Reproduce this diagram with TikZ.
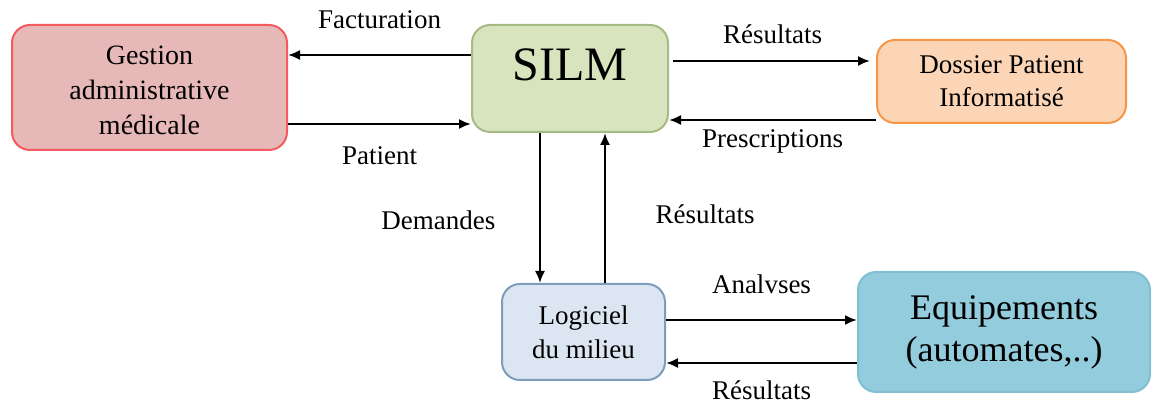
\documentclass[tikz,border=0pt]{standalone}
\usepackage{fontspec}
\setmainfont{Liberation Serif}
\usetikzlibrary{fit,arrows.meta}

\definecolor{gestfill}{HTML}{E6B9B8}
\definecolor{gestdraw}{HTML}{F45A5E}
\definecolor{silmfill}{HTML}{D7E4BD}
\definecolor{silmdraw}{HTML}{A5BA84}
\definecolor{dossfill}{HTML}{FBD5B5}
\definecolor{dossdraw}{HTML}{F79646}
\definecolor{logifill}{HTML}{DCE6F2}
\definecolor{logidraw}{HTML}{7F9CBB}
\definecolor{equifill}{HTML}{93CDDD}
\definecolor{equidraw}{HTML}{80C0D2}

\tikzset{
    bloc/.style={draw, line width=1pt, rounded corners=9pt, inner sep=0pt},
    fleche/.style={-{Latex[length=6pt, width=5pt]}, line width=1pt},
    lbl/.style={font=\fontsize{13.5}{16}\selectfont}
}

\begin{document}
\begin{tikzpicture}[x=0.5pt, y=-0.5pt]
        \useasboundingbox (0,0) rectangle (1152,405);

        \node[bloc, fill=gestfill, draw=gestdraw, fit={(12,25) (287,150)},
              label={[align=center, font=\fontsize{14}{17.5}\selectfont, yshift=-1.5pt]center:Gestion\\administrative\\médicale}] (gestion) {};
        \node[bloc, fill=silmfill, draw=silmdraw, fit={(472,25) (668,132)},
              label={[font=\fontsize{24}{28}\selectfont, yshift=6.75pt]center:SILM}] (silm) {};
        \node[bloc, fill=dossfill, draw=dossdraw, fit={(877,40) (1126,123)},
              label={[align=center, font=\fontsize{13.5}{16.5}\selectfont]center:Dossier Patient\\Informatisé}] (dossier) {};

        \node[bloc, fill=logifill, draw=logidraw, fit={(502,284) (665,380)},
              label={[align=center, font=\fontsize{13.5}{17}\selectfont]center:Logiciel\\du milieu}] (logiciel) {};
        \node[bloc, fill=equifill, draw=equidraw, fit={(858,272) (1150,392)},
              label={[align=center, font=\fontsize{18}{21}\selectfont]center:Equipements\\(automates,..)}] (equip) {};

        \draw [fleche]          (silm.west |- 0,55)      -- node[lbl, above=9.5pt] (lfact) {Facturation}   (gestion.east |- 0,55);
        \draw [fleche]          (gestion.east |- 0,124)  -- node[lbl, below=7.5pt] (lpat) {Patient}       (silm.west |- 0,124);
        \draw [fleche, shorten <=2pt, shorten >=3pt]
                                (silm.east |- 0,61)      -- node[lbl, above=5pt] (lres1) {Résultats}      (dossier.west |- 0,61);
        \draw [fleche]          (dossier.west |- 0,120)  -- node[lbl, below=1pt] (lpres) {Prescriptions}  (silm.east |- 0,120);

        \draw [fleche]          (silm.south -| 540,0)    -- node[lbl, left=18.5pt, pos=0.58] (ldem) {Demandes}  (logiciel.north -| 540,0);
        \draw [fleche]          (logiciel.north -| 605,0) -- node[lbl, right=21.5pt, pos=0.46] (lres2) {Résultats} (silm.south -| 605,0);

        \draw [fleche]          (logiciel.east |- 0,320) -- node[lbl, above=9.5pt] (lana) {Analvses}      (equip.west |- 0,320);
        \draw [fleche]          (equip.west |- 0,363)    -- node[lbl, below=5pt] (lres3) {Résultats}      (logiciel.east |- 0,363);
    \end{tikzpicture}
\end{document}
